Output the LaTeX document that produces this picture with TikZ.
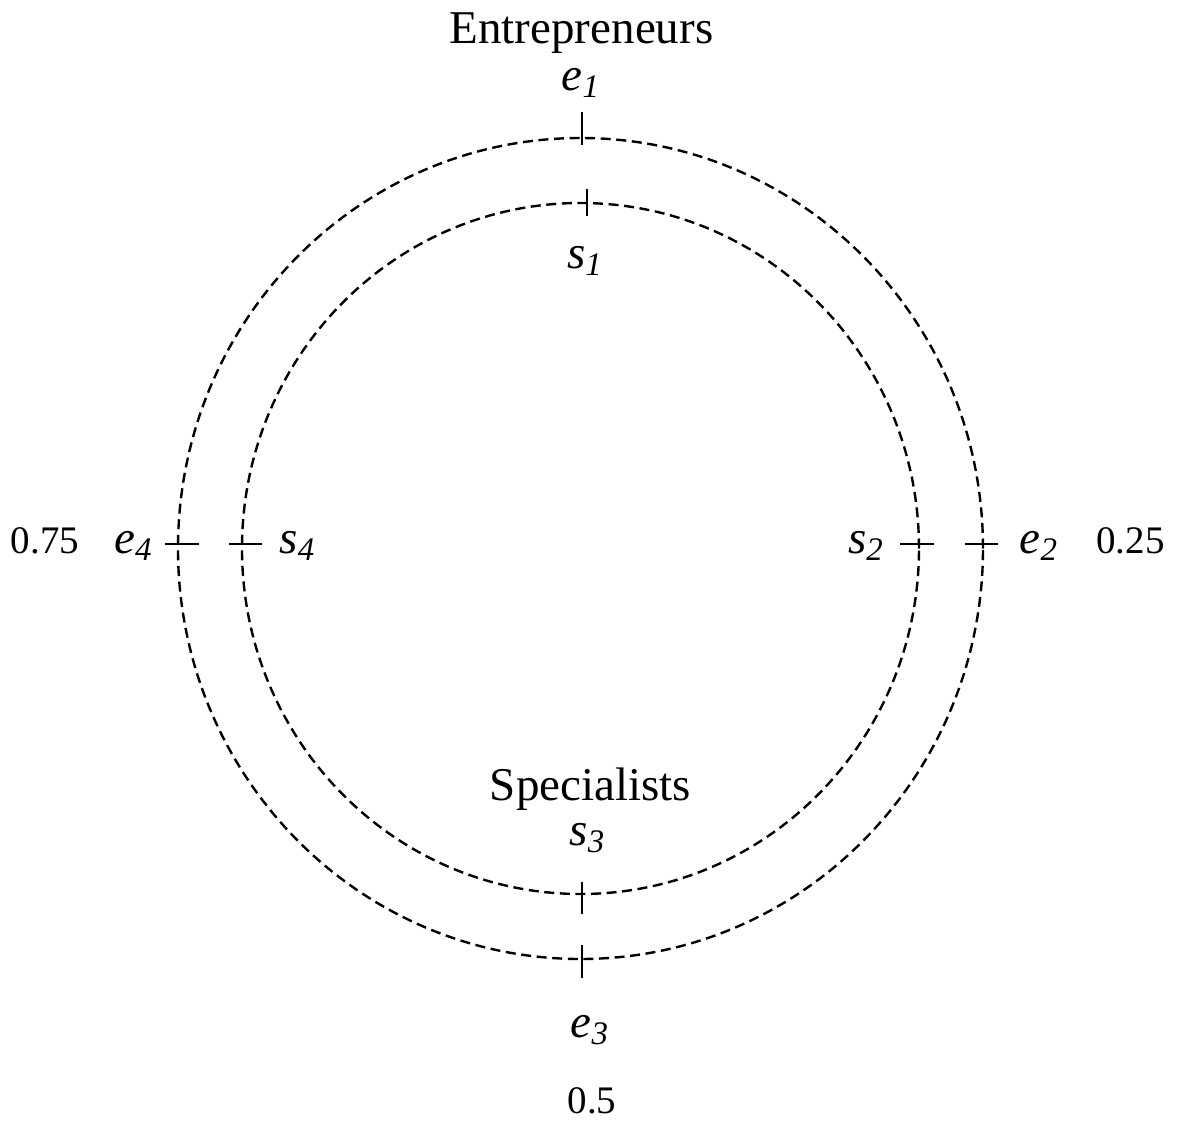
\documentclass[tikz,border=0pt]{standalone}
\usepackage{fontspec}
\setmainfont{Liberation Serif}
\usetikzlibrary{positioning}

\newcommand{\lbl}[2]{\textit{#1}\textsubscript{\textit{#2}}}

\begin{document}
\begin{tikzpicture}[
    x=0.5pt, y=0.5pt,
    ring/.style={draw, line width=1.2pt, dash pattern=on 5pt off 2.8pt},
    tick/.style={line width=1.1pt},
    txt/.style={anchor=base, inner sep=0pt, font=\fontsize{23.5}{28}\selectfont},
    quarter/.style={anchor=base, inner sep=0pt, font=\fontsize{19.5}{24}\selectfont}
  ]
  \useasboundingbox (-580.5,-583.5) rectangle (599.5,548.5);

  % circles
  \draw[ring] (0,0) ellipse [x radius=402.5, y radius=410.5];
  \draw[ring] (0,0) ellipse [x radius=338.5, y radius=345.5];

  % ticks
  \draw[tick] (1.5,403.5) -- (1.5,436.5);
  \draw[tick] (6.5,332.5) -- (6.5,359.5);
  \draw[tick] (1.5,-333.5) -- (1.5,-365.5);
  \draw[tick] (1.5,-396.5) -- (1.5,-429.5);
  \draw[tick] (-415.5,4.5) -- (-381.5,4.5);
  \draw[tick] (-351.5,4.5) -- (-318.5,4.5);
  \draw[tick] (319.5,4.5) -- (353.5,4.5);
  \draw[tick] (384.5,4.5) -- (417.5,4.5);

  % labels
  \node[txt] (ent) at (1,505.5)     {Entrepreneurs};
  \node[txt] (spe) at (10,-251.5)   {Specialists};
  \node[txt] (e1)  at (0.5,458.5)   {\lbl{e}{1}};
  \node[txt] (s1)  at (4.5,280.5)   {\lbl{s}{1}};
  \node[txt] (e4)  at (-447,-4.5)   {\lbl{e}{4}};
  \node[txt] (s4)  at (-283,-4.5)   {\lbl{s}{4}};
  \node[txt] (s2)  at (285.5,-4.5)  {\lbl{s}{2}};
  \node[txt] (e2)  at (458.5,-4.5)  {\lbl{e}{2}};
  \node[txt] (s3)  at (7,-296.5)    {\lbl{s}{3}};
  \node[txt] (e3)  at (9.5,-488.5)  {\lbl{e}{3}};

  \node[quarter] (q75) at (-535.5,-4.5)  {0.75};
  \node[quarter] (q25) at (550,-4.5)     {0.25};
  \node[quarter] (q50) at (11.5,-564.5)  {0.5};
\end{tikzpicture}
\end{document}
